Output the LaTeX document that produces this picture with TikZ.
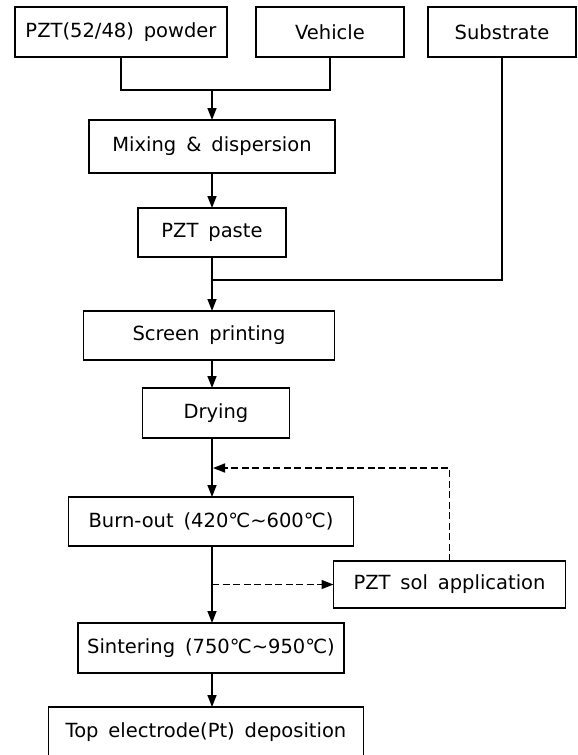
\documentclass[tikz,border=0pt]{standalone}
\usepackage{fontspec}
\setmainfont{DejaVu Sans}[WordSpace=1.6]
\usepackage{tikz}
\usetikzlibrary{arrows.meta,positioning,calc}
\tikzset{
  blk/.style={draw=black,line width=1.7pt,minimum height=50pt,inner sep=2pt,outer sep=0pt,
              font=\fontsize{19.5pt}{23pt}\selectfont,text=black},
  arr/.style={-{Triangle[length=12pt,width=9pt]},line width=1.6pt},
  arrdash/.style={arr,dash pattern=on 7pt off 3.5pt},
  lnk/.style={line width=1.6pt},
}

\begin{document}
\begin{tikzpicture}[x=1pt,y=1pt]
  \useasboundingbox (0,0) rectangle (578,-755);
  % raw materials
  \node[blk,minimum width=212pt] (powder) at (121,-32) {PZT(52/48) powder};
  \node[blk,minimum width=148pt,right=29pt of powder] (vehicle) {Vehicle};
  \node[blk,minimum width=148pt,right=24pt of vehicle] (substrate) {Substrate};
  % main process chain
  \node[blk,minimum width=246pt,minimum height=53pt,below=63pt of powder,xshift=91pt] (mixing) {Mixing \& dispersion};
  \node[blk,minimum width=148pt,minimum height=49pt,below=35pt of mixing] (paste) {PZT paste};
  \node[blk,minimum width=251pt,minimum height=49pt,below=54pt of paste,xshift=-3pt] (screen) {Screen printing};
  \node[blk,minimum width=147pt,below=28pt of screen,xshift=7pt] (drying) {Drying};
  \node[blk,minimum width=285pt,minimum height=49pt,below=59pt of drying,xshift=-5pt] (burnout) {Burn-out (420℃∼600℃)};
  \node[blk,minimum width=232pt,minimum height=47pt,below right=15pt and -20pt of burnout] (sol) {PZT sol application};
  \node[blk,minimum width=266pt,below=77pt of burnout] (sinter) {Sintering (750℃∼950℃)};
  \node[blk,minimum width=315pt,below=34pt of sinter,xshift=-5pt] (topel) {Top electrode(Pt) deposition};

  \coordinate (axis) at (mixing.center);
  \coordinate[below=33pt of vehicle.south] (vbar);
  \coordinate[below=23pt of paste.south] (sjoin);
  \coordinate (fb) at ($(burnout.north -| axis)+(1,29)$);

  \draw[lnk] (powder.south) |- (vbar) -- (vehicle.south);
  \draw[arr] (mixing.north |- vbar) -- (mixing.north);
  \draw[arr] (mixing) -- (paste);
  \draw[lnk] (substrate.south) |- (sjoin);
  \draw[arr] (paste.south) -- (screen.north -| axis);
  \draw[arr] (screen.south -| axis) -- (drying.north -| axis);
  \draw[arr] (drying.south -| axis) -- (burnout.north -| axis);
  \draw[arr] (burnout.south -| axis) -- (sinter.north -| axis);
  \draw[arr] (sinter.south -| axis) -- (topel.north -| axis);
  % sol loop
  \draw[arrdash] (sol.north) |- (fb);
  \draw[arrdash] (sol.west -| axis) -- (sol.west);
\end{tikzpicture}
\end{document}
